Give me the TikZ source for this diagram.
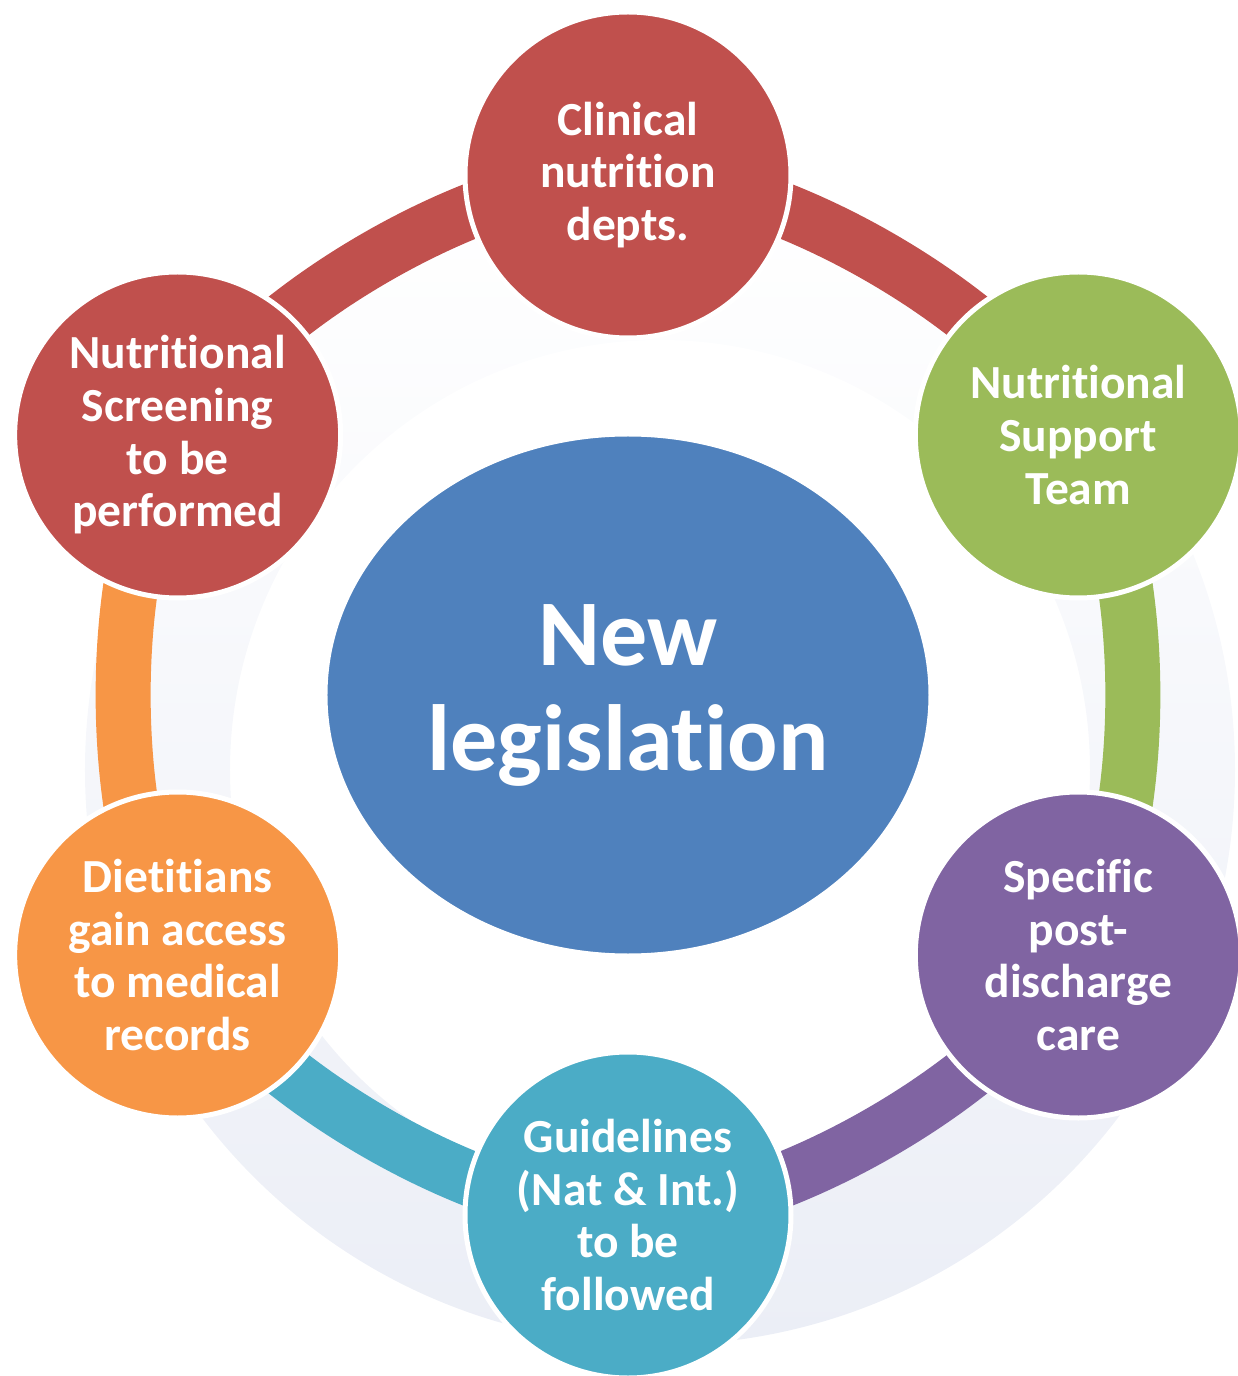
\documentclass[tikz,border=0pt]{standalone}
\usepackage{fontspec}
\setmainfont{Carlito}[Ligatures=NoCommon]
\usetikzlibrary{shapes.geometric}
\definecolor{cred}{HTML}{C0504D}
\definecolor{cgreen}{HTML}{9BBB59}
\definecolor{cpurple}{HTML}{8064A2}
\definecolor{cteal}{HTML}{4BACC6}
\definecolor{corange}{HTML}{F79646}
\definecolor{cblue}{HTML}{4F81BD}
\definecolor{wmark}{HTML}{EBEEF6}
\pgfdeclarelayer{bg}
\pgfsetlayers{bg,main}
\begin{document}
\begin{tikzpicture}[x=1pt,y=1pt,
    bubble/.style={circle,fill=#1,draw=white,line width=5pt,minimum size=326pt,inner sep=0pt,
      text=white,align=center,font=\fontsize{47.5}{52.7}\selectfont\bfseries},
    ringarc/.style={#1,line width=55pt}]
    \useasboundingbox (-628,-681) rectangle (609,695);
    \node[ellipse,fill=cblue,draw=white,line width=5pt,minimum width=606pt,minimum height=522pt,inner sep=0pt,
      text=white,align=center,font=\fontsize{94}{105}\selectfont\bfseries] (law) at (0,0) {New\\legislation};
    \node[bubble=cred] (n1) at (90:520) {Clinical\\nutrition\\depts.};
    \node[bubble=cgreen] (n2) at (30:520) {Nutritional\\Support\\Team};
    \node[bubble=cpurple] (n3) at (-30:520) {Specific\\post-\\discharge\\care};
    \node[bubble=cteal] (n4) at (-90:520) {Guidelines\\(Nat \& Int.)\\to be\\followed};
    \node[bubble=corange] (n5) at (-150:520) {Dietitians\\gain access\\to medical\\records};
    \node[bubble=cred] (n6) at (150:520) {Nutritional\\Screening\\to be\\performed};
    \begin{pgfonlayer}{bg}
    % faint logo behind the cycle
    \shade[even odd rule,top color=white,bottom color=wmark]
      (32,-75) circle (575) (32,-75) circle (430);
    \foreach \a/\b/\col in {n1/n2/cred,n2/n3/cgreen,n3/n4/cpurple,n4/n5/cteal,n5/n6/corange,n6/n1/cred}
      \draw[ringarc=\col] (\a.center) to[bend left=30,looseness=.717] (\b.center);
    \end{pgfonlayer}
\end{tikzpicture}
\end{document}
